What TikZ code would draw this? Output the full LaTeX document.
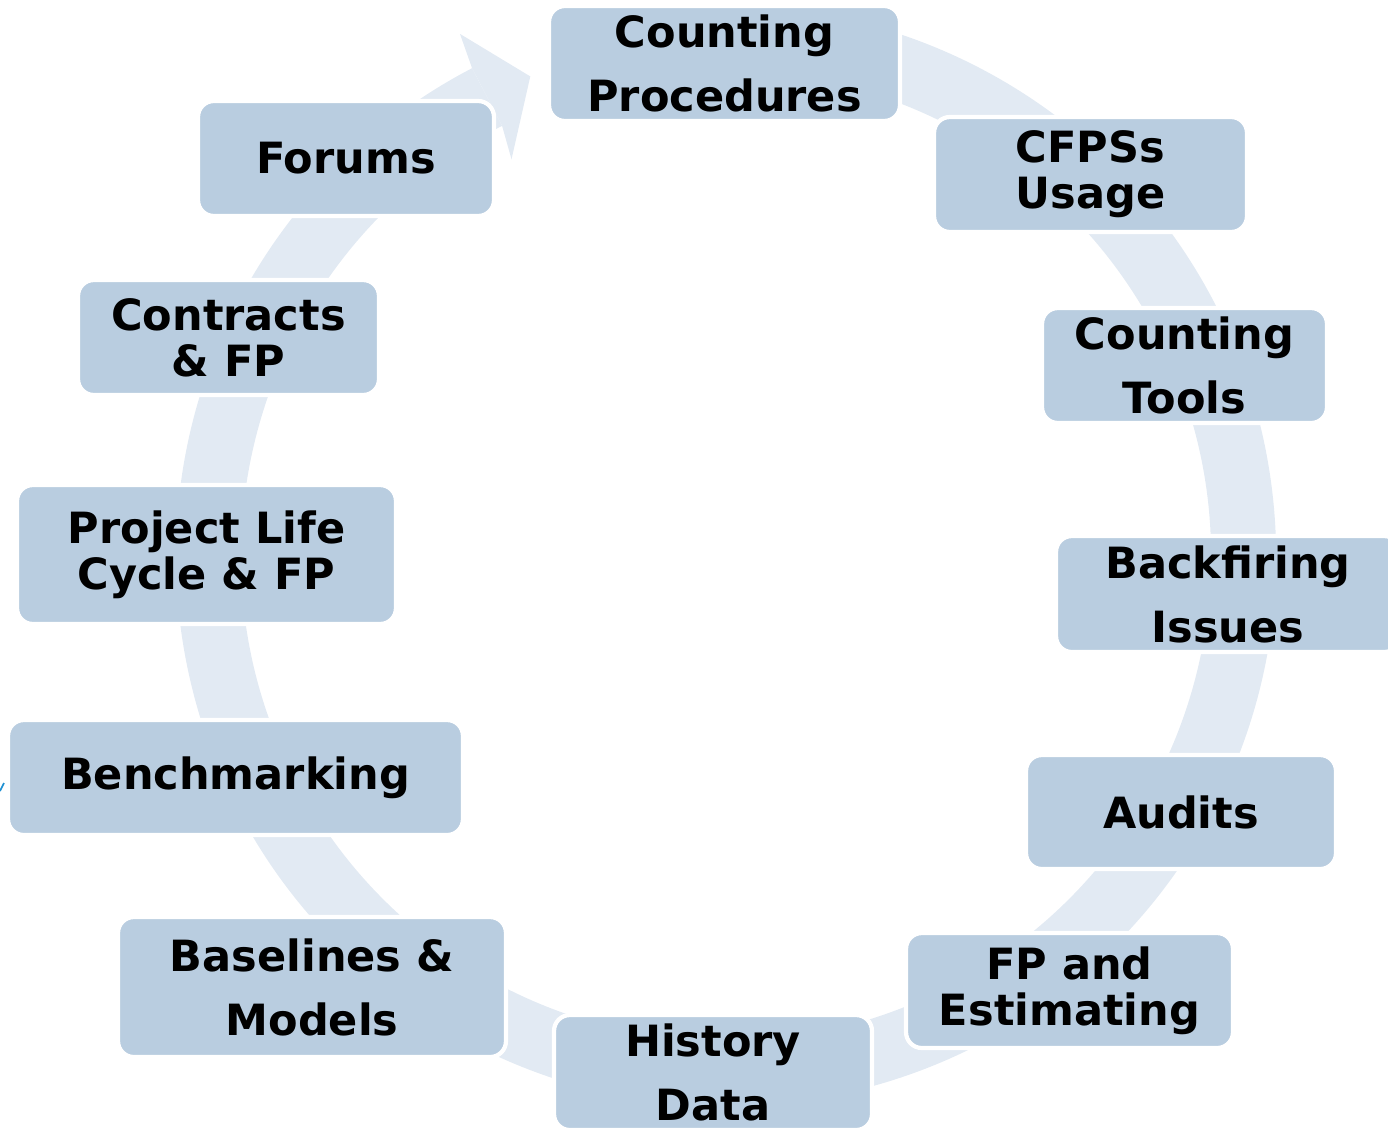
\documentclass[tikz,border=0pt]{standalone}
\usepackage{fontspec}
\setmainfont{DejaVu Sans}
\usetikzlibrary{calc}
\definecolor{boxc}{RGB}{185,205,224}
\definecolor{ringc}{RGB}{226,234,243}
\definecolor{markc}{RGB}{30,144,210}
\begin{document}
\begin{tikzpicture}[x=0.02cm,y=0.02cm,
  cbox/.style={rectangle, rounded corners=9pt, fill=boxc, draw=white, line width=2.4pt,
    inner sep=0pt, align=center, font=\bfseries\fontsize{24.5}{26.1}\selectfont}]
\useasboundingbox (0,0) rectangle (1388,-1127);
\coordinate (c) at (726,-556);
% circular arrow
\fill[ringc] ($(c)+(102:550)$) arc[start angle=102,end angle=-242.5,radius=550]
  -- ($(c)+(117.5:485)$) arc[start angle=-242.5,end angle=102,radius=485] -- cycle;
\fill[ringc] ($(c)+(117:586)$) -- ($(c)+(112.2:518)$) -- ($(c)+(118.4:451)$)
  -- ($(c)+(117.5:485)$) -- ($(c)+(117.5:550)$) -- cycle;
% small mark at left
\draw[markc, line width=1pt] (0,-791) -- (4,-783);
% boxes
\node[cbox, minimum width=7.02cm, minimum height=2.3cm] (cp) at (724.5,-63.5) {Counting\\[10.3pt]Procedures};
\node[cbox, minimum width=6.26cm, minimum height=2.3cm] (cf) at (1090.5,-174.5) {CFPSs\\Usage};
\node[cbox, minimum width=5.70cm, minimum height=2.3cm] (ct) at (1184.5,-365.5) {Counting\\[10.3pt]Tools};
\node[cbox, minimum width=6.88cm, minimum height=2.32cm] (bi) at (1228,-594) {Backfiring\\[10.3pt]Issues};
\node[cbox, minimum width=6.20cm, minimum height=2.28cm] (au) at (1181,-812) {Audits};
\node[cbox, minimum width=6.54cm, minimum height=2.3cm] (fe) at (1069.5,-990.5) {FP and\\Estimating};
\node[cbox, minimum width=6.36cm, minimum height=2.3cm] (hd) at (713,-1072.5) {History\\[10.3pt]Data};
\node[cbox, minimum width=7.76cm, minimum height=2.8cm] (bm) at (312,-987) {Baselines \&\\[10.3pt]Models};
\node[cbox, minimum width=9.10cm, minimum height=2.3cm] (be) at (235.5,-777.5) {Benchmarking};
\node[cbox, minimum width=7.58cm, minimum height=2.78cm] (pl) at (206.5,-554.5) {Project Life\\Cycle \& FP};
\node[cbox, minimum width=6.02cm, minimum height=2.3cm] (co) at (228.5,-337.5) {Contracts\\\& FP};
\node[cbox, minimum width=5.92cm, minimum height=2.3cm] (fo) at (346,-158.5) {Forums};
\end{tikzpicture}
\end{document}
